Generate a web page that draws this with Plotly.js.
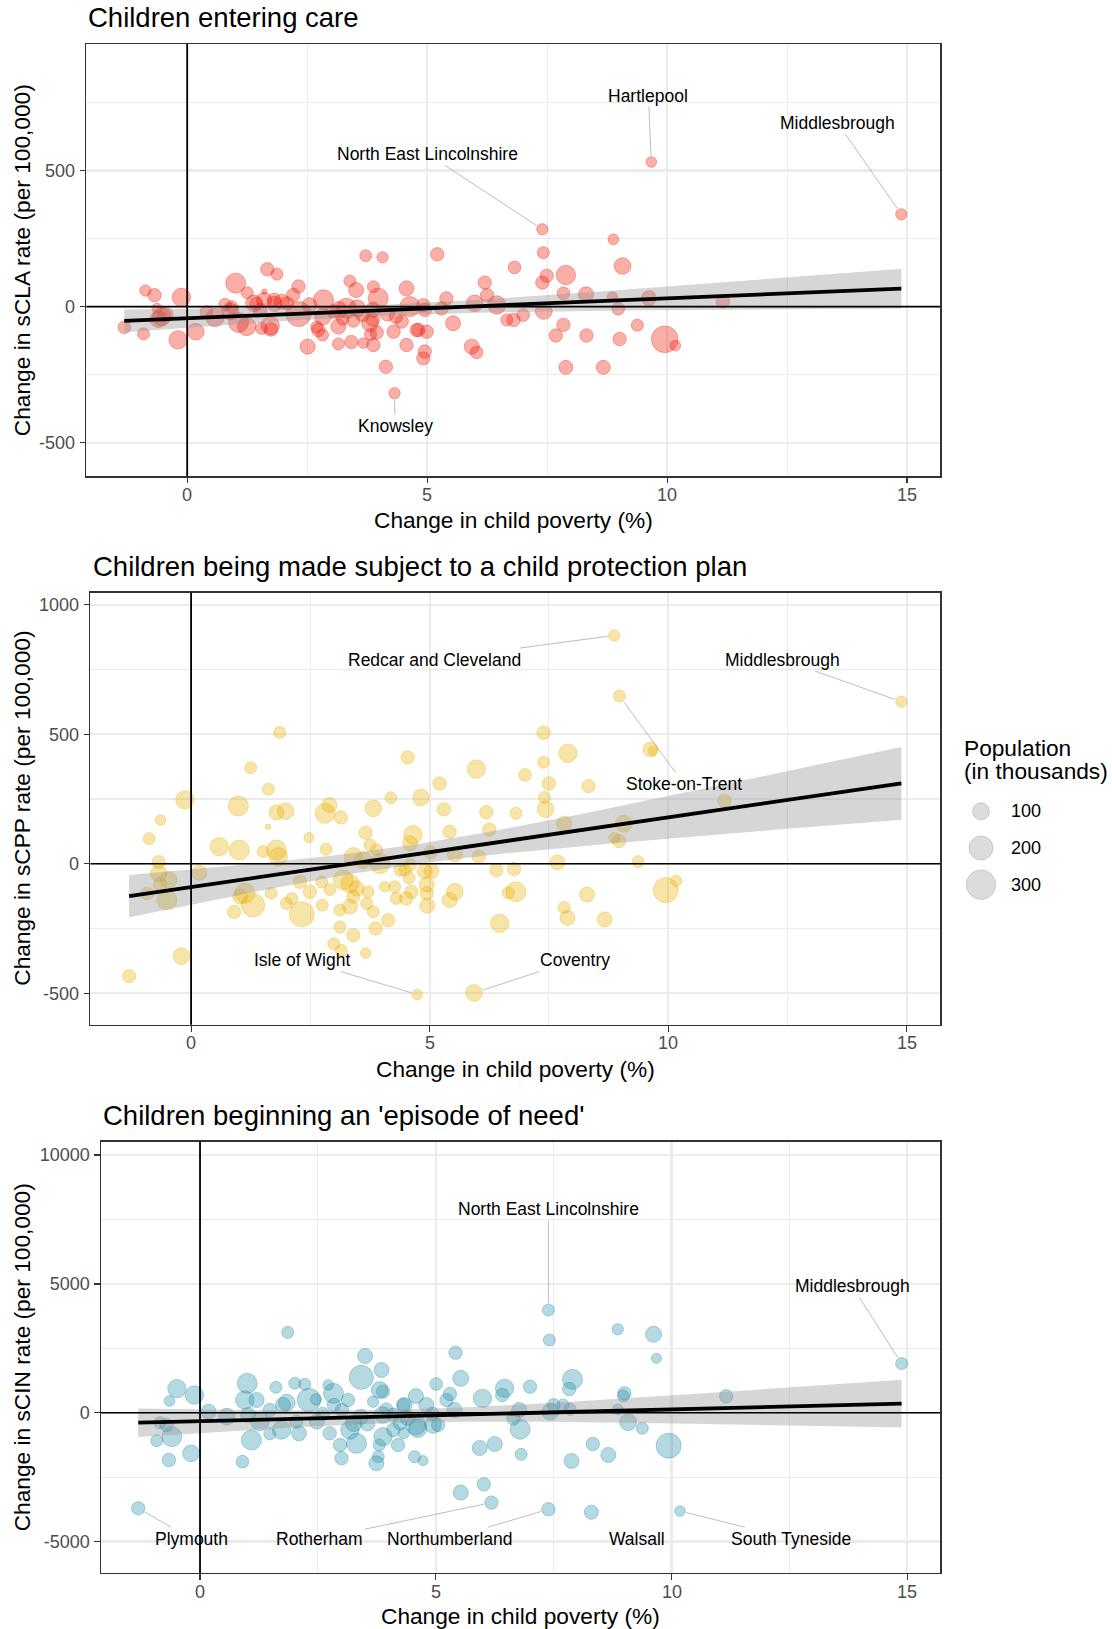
<!DOCTYPE html>
<html>
<head>
<meta charset="utf-8">
<script src="https://cdn.plot.ly/plotly-3.0.1.min.js"></script>
<style>
html,body{margin:0;padding:0;background:#ffffff;}
#chart{width:1112px;height:1629px;}
</style>
</head>
<body>
<div id="chart"></div>
<script>
// ---------------- DATA ----------------
// Panel 1: Children entering care (change in sCLA rate per 100,000)
const claX = [9.67,14.88,7.40,4.32,
-1.31,-0.91,-0.87,-0.68,-0.63,-0.53,-0.60,-0.12,-0.19,0.18,
0.58,1.01,1.25,0.93,1.07,1.24,1.55,1.73,1.67,1.87,
1.61,1.81,1.97,2.08,2.32,2.21,2.32,1.39,1.52,2.84,
2.51,2.73,2.82,3.15,3.15,3.39,3.52,3.42,3.32,3.67,
3.72,4.07,3.88,3.98,3.81,3.82,3.88,4.14,4.57,4.64,
4.30,4.47,4.57,4.78,
0.79,0.90,1.44,1.60,1.82,1.75,2.83,3.16,3.54,3.46,
3.24,3.65,3.87,3.87,3.95,4.17,4.35,4.95,2.70,3.05,
-0.45,2.55,0.40,
5.21,6.82,8.88,9.07,7.89,7.49,7.40,6.20,6.25,5.99,
6.45,7.84,8.31,8.86,9.62,7.43,8.98,5.40,5.30,4.92,
5.54,4.99,4.82,5.93,6.03,4.95,4.92,6.66,6.80,7.00,
7.84,7.68,8.32,9.01,9.38,9.95,10.17,7.89,8.67,7.42,
11.16];
const claY = [531,339,284,-318,
-76,-100,59,42,-6,-37,-46,34,-122,-92,
-40,86,51,-2,-58,-73,-80,-70,137,119,
55,25,18,12,74,43,-27,12,-12,25,
-147,-86,-104,-73,-137,94,61,-130,-6,-134,
187,181,73,31,-61,-102,-141,-221,67,0,
-92,-55,-141,-86,
7,-18,10,24,10,-84,-37,-12,-6,-51,
-45,-31,-12,-48,-95,-25,-37,-12,-75,-18,
-30,5,-20,
192,144,247,149,116,113,88,88,42,12,
6,49,45,36,31,-16,-8,30,-7,5,
-61,-92,-86,-147,-168,-165,-190,-49,-49,-31,
-67,-106,-106,-119,-68,-120,-143,-223,-223,198,
19];
const claPop = [39,44,44,44,
55,50,44,62,35,116,96,116,116,96,
116,138,50,56,138,116,50,116,62,50,
10,62,78,62,62,62,216,96,62,138,
78,62,50,78,50,50,78,62,138,39,
50,44,50,138,96,50,62,62,78,138,
62,62,62,62,
56,96,62,78,78,62,96,96,96,62,
56,62,78,62,62,78,62,62,50,62,
78,78,56,
62,56,39,96,130,62,62,62,62,96,
116,56,78,35,78,96,56,62,62,62,
78,62,62,78,56,62,62,50,62,56,
62,62,62,62,50,246,39,68,68,50,
62];
const claLabels = ["Hartlepool","Middlesbrough","North East Lincolnshire","Knowsley"];

// Panel 2: Children made subject to a child protection plan (change in sCPP rate)
const cppX = [8.87,14.89,8.98,4.74,5.93,
-1.30,-0.20,-0.88,-0.64,-0.13,-0.68,-0.68,-0.47,-0.65,-0.51,
-0.92,0.17,0.99,1.25,1.62,1.86,1.79,1.98,1.61,0.59,
1.01,1.51,1.79,1.83,1.68,1.13,1.03,1.30,0.90,2.32,
2.00,2.11,2.28,2.49,2.47,2.83,2.90,2.81,3.14,2.74,
2.91,2.75,3.12,3.12,3.40,2.99,3.15,3.66,3.19,3.33,
3.40,3.68,3.82,3.87,4.13,3.82,4.19,3.66,3.75,3.89,
3.40,3.61,3.96,3.33,3.47,3.71,4.06,4.27,4.38,4.30,
4.51,4.54,4.65,
9.63,9.68,7.39,7.90,7.39,7.00,7.50,7.41,7.43,8.33,
5.98,5.21,4.82,5.30,6.19,6.81,4.59,5.42,6.25,7.82,
9.07,8.87,8.97,9.37,5.02,5.53,6.03,7.68,4.59,4.48,
4.90,5.04,4.57,4.94,4.62,4.94,5.53,5.42,4.95,6.40,
6.77,6.81,6.65,6.47,8.30,7.82,7.89,8.67,9.95,10.17,
11.18];
const cppY = [882,626,648,-505,-499,
-434,-357,97,169,247,6,-37,-63,-80,-140,
-115,-35,223,371,288,507,198,203,143,66,
53,47,53,27,-114,-114,-127,-160,-186,-195,
-153,-134,-70,-108,101,56,227,195,179,-70,
-100,-160,-179,-244,-276,-309,-335,-345,-63,-166,
-127,-153,-186,-250,-218,214,255,120,72,53,
27,14,1,-76,-96,-108,-89,-89,-25,-134,
-134,411,112,
442,436,506,427,392,343,310,256,211,300,
366,310,256,210,199,195,79,124,132,155,
155,100,88,8,44,36,27,5,-5,-25,
-28,-28,-54,-80,-108,-114,-108,-140,-162,-24,
-20,-108,-112,-230,-119,-169,-209,-215,-102,-66,
243];
const cppPop = [44,44,50,39,96,
62,96,50,39,116,62,96,96,62,138,
56,78,138,50,50,50,78,96,10,116,
138,50,138,116,50,138,78,188,62,216,
50,50,62,62,35,50,78,138,62,50,
50,50,50,50,62,50,50,39,138,78,
62,50,50,62,62,96,50,62,50,50,
116,96,138,116,78,50,39,50,50,50,
62,62,120,
78,30,62,116,50,56,62,50,96,62,
116,62,96,62,62,50,78,62,62,78,
96,39,62,50,62,78,62,78,56,50,
78,78,50,78,62,62,96,78,78,62,
62,138,50,116,78,50,78,78,216,44,
62];
const cppLabels = ["Redcar and Cleveland","Middlesbrough","Stoke-on-Trent","Isle of Wight","Coventry"];

// Panel 3: Children beginning an 'episode of need' (change in sCIN rate)
const cinX = [7.39,14.88,-1.31,6.18,7.39,8.30,10.18,
-0.92,-0.66,-0.49,-0.65,-0.12,-0.19,-0.60,-0.71,-0.85,0.18,
0.57,0.90,1.00,0.95,1.20,1.09,1.02,1.27,1.48,1.61,
1.84,1.73,2.01,2.22,2.31,2.10,1.86,2.46,2.72,2.83,
2.84,3.14,2.75,3.00,2.97,3.32,3.18,3.42,3.50,3.85,
3.81,3.88,3.67,3.87,3.88,3.80,3.78,3.74,4.20,4.31,
4.32,4.10,4.24,1.48,1.76,2.04,2.48,3.01,3.26,3.55,
3.41,2.60,
7.41,8.86,9.62,9.68,5.42,5.53,5.01,7.90,7.83,7.00,
6.46,6.41,5.99,5.30,5.23,4.58,4.34,4.80,5.40,4.93,
4.94,4.62,4.55,4.73,5.05,6.77,6.65,6.79,6.81,5.93,
6.25,7.50,7.70,7.85,7.43,7.88,8.33,8.66,8.86,9.00,
8.98,9.08,9.38,9.94,5.53,6.02,11.16,4.58,4.40,4.10,
3.95];
const cinY = [3987,1906,-3711,-3491,-3750,-3866,-3815,
-1087,-1836,933,455,687,-1577,-931,-478,-388,39,
-155,-1900,1140,492,492,-1061,-88,-346,-824,985,
388,-672,1140,1101,492,-801,3118,518,1075,752,
300,492,-801,-1771,-1255,-1190,-672,1373,2201,1657,
881,817,428,-88,-930,-1255,-1706,-1965,-1255,300,
-801,-672,-413,105,300,-346,-346,105,-413,-413,
-160,-50,
2823,3237,3043,2111,2330,1334,1114,1295,920,1010,
946,687,558,726,492,647,300,300,105,-49,
-475,-604,-1706,-1861,-475,105,-218,-645,-1616,-1371,
-1216,300,300,132,39,-1874,-1216,-1642,132,752,
650,-371,-604,-1281,-3103,-2780,637,-477,-200,-80,
120];
const cinPop = [50,50,62,62,62,68,39,
50,62,116,39,116,96,138,62,50,78,
96,56,138,116,78,138,78,116,50,50,
96,116,50,50,188,78,50,44,39,138,
62,62,62,62,62,138,116,199,78,78,
96,62,44,96,116,50,50,78,62,62,
44,62,62,62,78,62,78,62,96,78,
78,62,
50,44,89,35,62,89,56,138,62,62,
116,62,116,62,62,78,78,78,78,62,
96,116,50,35,62,78,62,138,50,78,
78,56,50,50,96,78,62,78,39,62,
50,96,50,216,78,62,62,138,78,62,
62];
const cinLabels = ["North East Lincolnshire","Middlesbrough","Plymouth","Rotherham","Northumberland","Walsall","South Tyneside"];

// Size legend breaks (population, thousands)
const legendPop = [100, 200, 300];

// Tick values / labels
const xTicks = [0, 5, 10, 15];
const claTicks = [-500, 0, 500];
const cppTicks = [-500, 0, 500, 1000];
const cinTicks = [-5000, 0, 5000, 10000];

// Titles
const panelTitles = ["Children entering care","Children being made subject to a child protection plan","Children beginning an 'episode of need'"];
const yTitles = ["Change in sCLA rate (per 100,000)","Change in sCPP rate (per 100,000)","Change in sCIN rate (per 100,000)"];
const xTitle = "Change in child poverty (%)";

// ---------------- LAYOUT CONFIG ----------------
const W = 1112, H = 1629;
const FONT = "'Liberation Sans', Arial, Helvetica, sans-serif";
const px = v => v / W;
const py = v => 1 - v / H;
const SIZEREF = 0.692;            // pop 100 -> 17px diameter
const radius = p => 8.5 * Math.sqrt(p / 100);

// label text placement (data coords) for repelled labels
const claLabelPos = [[9.61,775],[13.55,675],[5.0,561],[4.33,-438]];
const cppLabelPos = [[5.10,789],[12.40,789],[10.33,309],[2.33,-372],[8.04,-372]];
const cinLabelPos = [[7.39,7896],[13.83,4919],[-0.19,-4888],[2.54,-4888],[5.29,-4888],[9.26,-4888],[12.53,-4888]];
const cinNoSeg = [false,false,false,false,false,true,false];

const panels = [
  {X:claX, Y:claY, P:claPop, labels:claLabels, pos:claLabelPos, noSeg:null, yt:claTicks,
   fill:'rgba(240,30,10,0.5)', line:'rgba(240,30,10,0.6)',
   px:[86.4,940.2], py:[44.1,476.2], xr:[-2.100,15.690], yr:[-622.6,963.7], mdt:250,
   titleX:86.4, titleY:17.5, xtY:520, ytX:22, xlY:494.5},
  {X:cppX, Y:cppY, P:cppPop, labels:cppLabels, pos:cppLabelPos, noSeg:null, yt:cppTicks,
   fill:'rgba(231,176,0,0.48)', line:'rgba(231,176,0,0.58)',
   px:[90.4,940.2], py:[592.7,1024.8], xr:[-2.111,15.704], yr:[-622,1047], mdt:250,
   titleX:91.1, titleY:566, xtY:1068.6, ytX:22, xlY:1043.3},
  {X:cinX, Y:cinY, P:cinPop, labels:cinLabels, pos:cinLabelPos, noSeg:cinNoSeg, yt:cinTicks,
   fill:'rgba(35,140,165,0.47)', line:'rgba(35,140,165,0.6)',
   px:[101.1,940.2], py:[1141.6,1573], xr:[-2.098,15.699], yr:[-6223,10524], mdt:2500,
   titleX:101.1, titleY:1115, xtY:1615.5, ytX:22, xlY:1592}
];

// linear model with 95% confidence band (like geom_smooth(method='lm'))
function lmBand(xs, ys, n) {
  const N = xs.length;
  let mx = 0, my = 0;
  for (let i = 0; i < N; i++) { mx += xs[i]; my += ys[i]; }
  mx /= N; my /= N;
  let sxx = 0, sxy = 0;
  for (let i = 0; i < N; i++) { sxx += (xs[i]-mx)*(xs[i]-mx); sxy += (xs[i]-mx)*(ys[i]-my); }
  const b = sxy / sxx, a = my - b * mx;
  let sse = 0;
  for (let i = 0; i < N; i++) { const r = ys[i] - a - b*xs[i]; sse += r*r; }
  const s = Math.sqrt(sse / (N - 2));
  const df = N - 2, z = 1.959964;
  const t = z + (z*z*z + z)/(4*df) + (5*Math.pow(z,5) + 16*z*z*z + 3*z)/(96*df*df);
  const lo = Math.min(...xs), hi = Math.max(...xs);
  const gx = [], gy = [], gl = [], gu = [];
  for (let i = 0; i < n; i++) {
    const x = lo + (hi - lo) * i / (n - 1);
    const yh = a + b * x;
    const se = s * Math.sqrt(1/N + (x-mx)*(x-mx)/sxx);
    gx.push(x); gy.push(yh); gl.push(yh - t*se); gu.push(yh + t*se);
  }
  return {gx, gy, gl, gu};
}

const traces = [];
const annotations = [];
const shapes = [];
const layout = {
  width: W, height: H,
  margin: {l:0, r:0, t:0, b:0, pad:0},
  paper_bgcolor: '#ffffff', plot_bgcolor: '#ffffff',
  showlegend: false,
  font: {family: FONT, color: '#000000'}
};

panels.forEach((p, k) => {
  const sfx = k === 0 ? '' : String(k + 1);
  const xa = 'x' + sfx, ya = 'y' + sfx;
  const gridCommon = {
    ticks: 'outside', ticklen: 5.5, tickwidth: 1.2, tickcolor: '#333333',
    showline: true, mirror: true, linecolor: '#333333', linewidth: 1.3,
    showgrid: true, gridcolor: '#EBEBEB', gridwidth: 2.2,
    zeroline: false, fixedrange: true,
    tickfont: {family: FONT, size: 18, color: '#4D4D4D'}
  };
  layout['xaxis' + sfx] = Object.assign({}, gridCommon, {
    domain: [px(p.px[0]), px(p.px[1])], range: p.xr, anchor: ya,
    tickmode: 'array', tickvals: xTicks, ticktext: xTicks.map(String),
    showticklabels: false,
    minor: {tickmode: 'linear', dtick: 2.5, tick0: 0, showgrid: true, gridcolor: '#EBEBEB', gridwidth: 1.1}
  });
  layout['yaxis' + sfx] = Object.assign({}, gridCommon, {
    domain: [py(p.py[1]), py(p.py[0])], range: p.yr, anchor: xa,
    tickmode: 'array', tickvals: p.yt, ticktext: p.yt.map(String),
    minor: {tickmode: 'linear', dtick: p.mdt, tick0: 0, showgrid: true, gridcolor: '#EBEBEB', gridwidth: 1.1},
    ticklabelstandoff: 1
  });

  // x tick labels (placed like ggplot: closer to the axis)
  xTicks.forEach(v => {
    annotations.push({xref:xa, yref:'paper', x:v, y:py(p.xlY), xanchor:'center', yanchor:'middle',
      showarrow:false, text:String(v), font:{family:FONT, size:18, color:'#4D4D4D'}});
  });

  // points
  traces.push({
    type: 'scatter', mode: 'markers', xaxis: xa, yaxis: ya,
    x: p.X, y: p.Y, hoverinfo: 'skip',
    marker: {size: p.P, sizemode: 'area', sizeref: SIZEREF,
             color: p.fill, line: {color: p.line, width: 0.9}}
  });
  // fit + confidence band
  const f = lmBand(p.X, p.Y, 80);
  traces.push({type:'scatter', mode:'lines', xaxis:xa, yaxis:ya, x:f.gx, y:f.gl,
               line:{width:0, color:'rgba(0,0,0,0)'}, hoverinfo:'skip'});
  traces.push({type:'scatter', mode:'lines', xaxis:xa, yaxis:ya, x:f.gx, y:f.gu,
               fill:'tonexty', fillcolor:'rgba(153,153,153,0.4)',
               line:{width:0, color:'rgba(0,0,0,0)'}, hoverinfo:'skip'});
  traces.push({type:'scatter', mode:'lines', xaxis:xa, yaxis:ya, x:f.gx, y:f.gy,
               line:{width:3.8, color:'#000000'}, hoverinfo:'skip'});

  // reference lines at 0
  shapes.push({type:'line', xref:xa, yref:ya + ' domain', x0:0, x1:0, y0:0, y1:1,
               line:{color:'#000000', width:1.8}, layer:'above'});
  shapes.push({type:'line', xref:xa + ' domain', yref:ya, x0:0, x1:1, y0:0, y1:0,
               line:{color:'#000000', width:1.6}, layer:'above'});

  // panel title
  annotations.push({xref:'paper', yref:'paper', x:px(p.titleX), y:py(p.titleY),
    xanchor:'left', yanchor:'middle', showarrow:false, text: panelTitles[k],
    font:{family:FONT, size:27.5, color:'#000000'}});
  // x axis title
  annotations.push({xref:'paper', yref:'paper', x:px((p.px[0]+p.px[1])/2), y:py(p.xtY),
    xanchor:'center', yanchor:'middle', showarrow:false, text: xTitle,
    font:{family:FONT, size:22.7, color:'#000000'}});
  // y axis title
  annotations.push({xref:'paper', yref:'paper', x:px(p.ytX), y:py((p.py[0]+p.py[1])/2),
    xanchor:'center', yanchor:'middle', showarrow:false, text: yTitles[k], textangle:-90,
    font:{family:FONT, size:22.7, color:'#000000'}});

  // repelled labels (labelled points are the first entries of each series)
  p.labels.forEach((name, i) => {
    const seg = !(p.noSeg && p.noSeg[i]);
    if (seg) {
      annotations.push({xref:xa, yref:ya, x:p.X[i], y:p.Y[i],
        axref:xa, ayref:ya, ax:p.pos[i][0], ay:p.pos[i][1],
        showarrow:true, arrowhead:0, arrowwidth:0.7, arrowcolor:'#A0A0A0',
        standoff: radius(p.P[i]) + 1, text:name,
        font:{family:FONT, size:17.5, color:'#000000'}});
    } else {
      annotations.push({xref:xa, yref:ya, x:p.pos[i][0], y:p.pos[i][1],
        xanchor:'center', yanchor:'middle', showarrow:false, text:name,
        font:{family:FONT, size:17.5, color:'#000000'}});
    }
  });
});

// ---------- size legend ----------
layout.xaxis4 = {domain:[px(960), px(1002)], range:[-1,1], visible:false, anchor:'y4', fixedrange:true};
layout.yaxis4 = {domain:[py(903), py(793)], range:[2.5,-0.5], visible:false, anchor:'x4', fixedrange:true};
traces.push({type:'scatter', mode:'markers', xaxis:'x4', yaxis:'y4',
  x: legendPop.map(() => 0), y: legendPop.map((_, i) => i), cliponaxis:false, hoverinfo:'skip',
  marker:{size: legendPop, sizemode:'area', sizeref:SIZEREF,
          color:'rgba(127,127,127,0.38)', line:{color:'rgba(127,127,127,0.5)', width:0.9}}});
legendPop.forEach((v, i) => {
  annotations.push({xref:'paper', yref:'y4', x:px(1008.5), y:i, xanchor:'left', yanchor:'middle',
    showarrow:false, text:String(v), font:{family:FONT, size:18, color:'#000000'}});
});
annotations.push({xref:'paper', yref:'paper', x:px(962.3), y:py(747.6), xanchor:'left', yanchor:'middle',
  showarrow:false, text:'Population', font:{family:FONT, size:22.7, color:'#000000'}});
annotations.push({xref:'paper', yref:'paper', x:px(962.3), y:py(771.4), xanchor:'left', yanchor:'middle',
  showarrow:false, text:'(in thousands)', font:{family:FONT, size:22.7, color:'#000000'}});

layout.annotations = annotations;
layout.shapes = shapes;

Plotly.newPlot('chart', traces, layout, {staticPlot:true, displayModeBar:false});
</script>
</body>
</html>
